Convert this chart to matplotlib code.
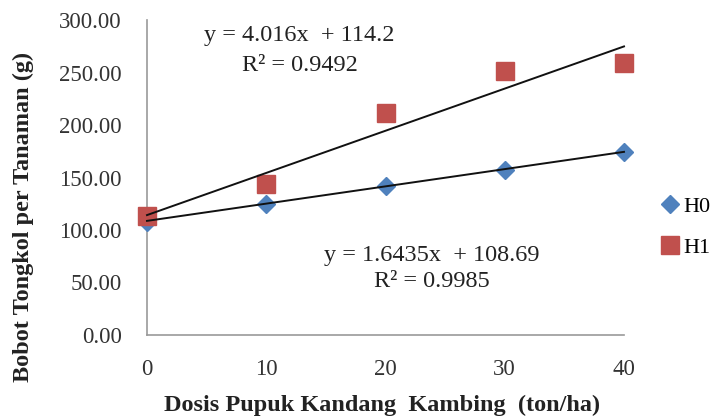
import numpy as np
import matplotlib
matplotlib.use("Agg")
import matplotlib.pyplot as plt

# data
dosis = [0, 10, 20, 30, 40]
h0 = [108, 125, 142, 157, 174]
h1 = [113, 144, 211, 251, 259]

# trendline coefficients as printed on the chart
h0_fit = (1.6435, 108.69)
h1_fit = (4.016, 114.2)

y_ticks = [0, 50, 100, 150, 200, 250, 300]
x_ticks = [0, 10, 20, 30, 40]

plt.rcParams['font.family'] = ['Liberation Serif', 'DejaVu Serif']

W, H = 717, 419
fig = plt.figure(figsize=(W / 100, H / 100), dpi=100)
ax = fig.add_axes([147 / W, 1 - 335 / H, (624 - 147) / W, (335 - 20) / H])

blue = '#4F81BD'
red = '#C0504D'

ax.plot(dosis, h0, linestyle='none', marker='D', ms=9.5, color=blue,
        label='H0', zorder=3, clip_on=False)
ax.plot(dosis, h1, linestyle='none', marker='s', ms=13, color=red,
        label='H1', zorder=3, clip_on=False)

xx = np.array([0, 40])
for slope, icpt in (h0_fit, h1_fit):
    ax.plot(xx, slope * xx + icpt, color='#111111', lw=1.4, zorder=4, clip_on=False)

ax.set_xlim(0, 40)
ax.set_ylim(0, 300)
ax.set_xticks(x_ticks)
ax.set_yticks(y_ticks)
ax.set_yticklabels(['%.2f' % v for v in y_ticks])
ax.tick_params(length=0, labelsize=16.5, colors='#333333')
ax.tick_params(axis='y', pad=18)
ax.tick_params(axis='x', pad=17)

for s in ('top', 'right'):
    ax.spines[s].set_visible(False)
for s in ('left', 'bottom'):
    ax.spines[s].set_color('#999999')
    ax.spines[s].set_linewidth(1.2)

fig.text(382 / W, 1 - 405 / H, 'Dosis Pupuk Kandang  Kambing  (ton/ha)',
         fontsize=17.5, fontweight='bold', ha='center', va='center', color='#222222')
fig.text(23 / W, 1 - 217 / H, 'Bobot Tongkol per Tanaman (g)', rotation=90,
         fontsize=17.5, fontweight='bold', ha='center', va='center', color='#222222')

ax.text(12.8, 285.5, 'y = 4.016x  + 114.2', fontsize=17.5, ha='center', va='center', color='#222222')
ax.text(12.8, 257, 'R² = 0.9492', fontsize=17.5, ha='center', va='center', color='#222222')
ax.text(23.9, 76, 'y = 1.6435x  + 108.69', fontsize=17.5, ha='center', va='center', color='#222222')
ax.text(23.9, 50.5, 'R² = 0.9985', fontsize=17.5, ha='center', va='center', color='#222222')

ax.legend(loc='center left', bbox_to_anchor=(660 / W, 1 - 227 / H),
          bbox_transform=fig.transFigure, frameon=False, borderpad=0, borderaxespad=0,
          fontsize=16, handlelength=0.9, handletextpad=0.15, labelspacing=0.9)

fig.savefig('out.png', dpi=100)
